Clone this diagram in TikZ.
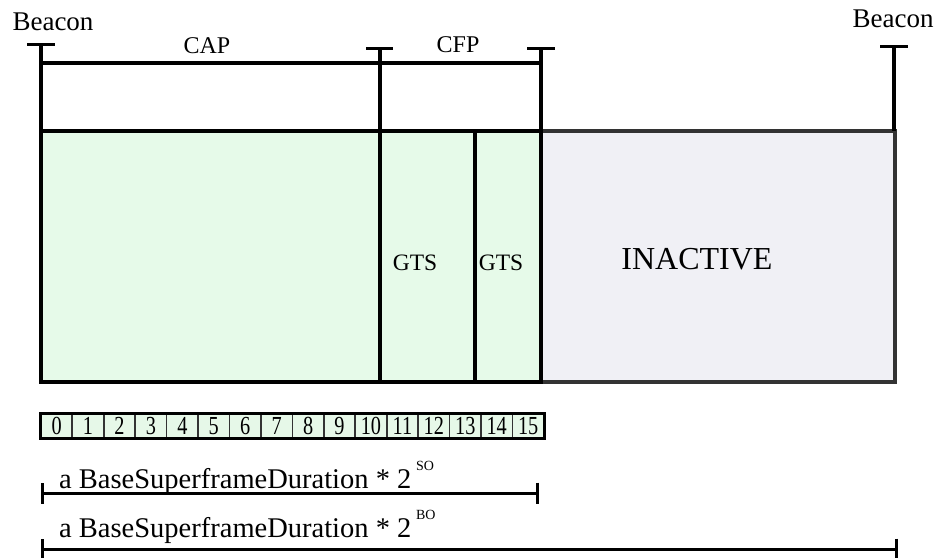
\documentclass[tikz,border=0pt]{standalone}
\usepackage{fontspec}
\setmainfont{Liberation Serif}
\newfontfamily\slotfont{Liberation Serif}[FakeStretch=0.78]
\usetikzlibrary{arrows.meta}

\definecolor{activegreen}{HTML}{E6FAE9}
\definecolor{idlegray}{HTML}{F0F0F5}
\definecolor{slotgreen}{HTML}{E6F8E8}
\definecolor{edgegray}{HTML}{333333}

\tikzset{
  rule/.style={line width=3.2pt, black},
  tbar/.style={line width=3pt, black},
  lbl/.style={inner sep=0pt, font=\fontsize{24}{26}\selectfont},
  beaconlbl/.style={inner sep=0pt, font=\fontsize{27}{29}\selectfont},
  slot/.style={draw=edgegray, line width=1.7pt, fill=slotgreen, minimum width=31.44pt,
    minimum height=24pt, inner sep=0pt, text height=17.5pt, text depth=0pt,
    anchor=north west, font=\slotfont\fontsize{26}{26}\selectfont},
  durlbl/.style={inner sep=0pt, anchor=base west, font=\fontsize{28.5}{30}\selectfont},
  dimline/.style={line width=3pt, {Bar[width=21pt,line width=3pt]}-{Bar[width=21pt,line width=3pt]}},
}
\newcommand{\supexp}[1]{\,\raisebox{18pt}{\fontsize{14}{14}\selectfont #1}}

\begin{document}
\begin{tikzpicture}[x=1pt,y=-1pt]
\useasboundingbox (0,0) rectangle (937,557);

% superframe body
\fill[activegreen] (41,131) rectangle (541,382);
\fill[idlegray] (541,131) rectangle (895,382);
\draw[line width=3.6pt, edgegray] (541,131) rectangle (895,382);
\draw[line width=3.6pt, black] (41,131) rectangle (541,382);
\draw[rule] (380,131) -- (380,382);
\draw[rule] (475,131) -- (475,382);

% beacon markers and period brackets
\coordinate (bcnL) at (41,44);
\coordinate (bcnR) at (894,46);
\coordinate (capEnd) at (380,48);
\coordinate (cfpEnd) at (541,48);
\coordinate (bodyL) at (41,131);
\coordinate (bodyR) at (894,131);
\coordinate (capBody) at (380,131);
\coordinate (cfpBody) at (541,131);

\draw[rule] (bcnL) -- (bodyL);
\draw[rule] (bcnR) -- (bodyR);
\draw[rule] (capEnd) -- (capBody);
\draw[rule] (cfpEnd) -- (cfpBody);
\draw[tbar] ([xshift=-14pt]bcnL) -- ([xshift=14pt]bcnL);
\draw[tbar] ([xshift=-14pt]bcnR) -- ([xshift=14pt]bcnR);
\draw[tbar] ([xshift=-14pt]capEnd) -- ([xshift=13pt]capEnd);
\draw[tbar] ([xshift=-14pt]cfpEnd) -- ([xshift=14pt]cfpEnd);
\draw[rule] (41,63) -- (541,63);

\node[beaconlbl] (beaconL) at (53,22) {Beacon};
\node[beaconlbl] (beaconR) at (893,19) {Beacon};
\node[lbl] (cap) at (207,46) {CAP};
\node[lbl] (cfp) at (458,45) {CFP};

\node[lbl, font=\fontsize{23.5}{25}\selectfont] (gtsA) at (415,263) {GTS};
\node[lbl, font=\fontsize{23.5}{25}\selectfont] (gtsB) at (501,263) {GTS};
\node[lbl, font=\fontsize{32}{34}\selectfont] (inactive) at (697,259) {INACTIVE};

% superframe slots
\foreach \i in {0,...,15} {
  \node[slot] (s\i) at ({40+31.44*\i},413) {\i};
}
\draw[line width=3pt, black] (s0.north west) rectangle (s15.south east);

% duration markers
\coordinate (soL) at (41,493);
\coordinate (soR) at (539,493);
\coordinate (boL) at (41,549);
\coordinate (boR) at (898,549);
\draw[dimline] (soL) -- (soR);
\draw[dimline] (boL) -- (boR);
\node[durlbl] (soText) at (59,488) {a BaseSuperframeDuration * 2\supexp{SO}};
\node[durlbl] (boText) at (59,537) {a BaseSuperframeDuration * 2\supexp{BO}};
\end{tikzpicture}
\end{document}
